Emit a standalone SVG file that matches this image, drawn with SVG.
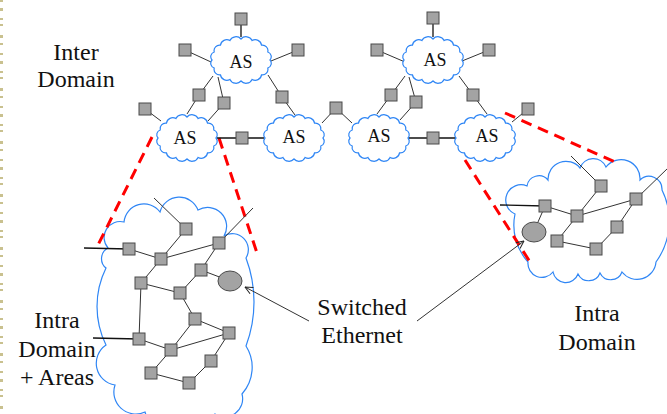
<svg xmlns="http://www.w3.org/2000/svg" xmlns:xlink="http://www.w3.org/1999/xlink" width="667" height="414" viewBox="0 0 667 414">
  <style>
    .cloud { fill: #ffffff; stroke: #2f86f5; stroke-width: 1.2; }
    .rtr { fill: #a3a3a3; stroke: #4a4a4a; stroke-width: 1; }
    .sw { fill: #a3a3a3; stroke: #4a4a4a; stroke-width: 1; }
    .ln { stroke: #333333; stroke-width: 1; fill: none; }
    .lnk { stroke: #111111; stroke-width: 1.3; fill: none; }
    .zoom { stroke: #ff0000; stroke-width: 3; stroke-dasharray: 11 7; fill: none; }
    .lbl { font-family: "Liberation Serif", "Times New Roman", serif; font-size: 24px; fill: #111111; text-anchor: middle; }
    .as { font-family: "Liberation Serif", "Times New Roman", serif; font-size: 18px; fill: #111111; text-anchor: middle; }
    .edge { stroke: #c9c18f; stroke-width: 3; stroke-dasharray: 2 6 3 7 2 4 2 9 3 5 2 8; }
  </style>
  <defs>
    <!-- small scalloped cloud used for every AS -->
    <path id="ascloud" d="M29,0 A5 5 0 0 1 26.79,8.04 A5.6 5.6 0 0 1 20.51,14.85 A6.3 6.3 0 0 1 11.10,19.40 A6.7 6.7 0 0 1 0,21 A6.7 6.7 0 0 1 -11.10,19.40 A6.3 6.3 0 0 1 -20.51,14.85 A5.6 5.6 0 0 1 -26.79,8.04 A5 5 0 0 1 -29,0 A5 5 0 0 1 -26.79,-8.04 A5.6 5.6 0 0 1 -20.51,-14.85 A6.3 6.3 0 0 1 -11.10,-19.40 A6.7 6.7 0 0 1 0,-21 A6.7 6.7 0 0 1 11.10,-19.40 A6.3 6.3 0 0 1 20.51,-14.85 A5.6 5.6 0 0 1 26.79,-8.04 A5 5 0 0 1 29,0 Z"/>
    <rect id="router" x="-6" y="-6" width="12" height="12"/>
    <marker id="open" viewBox="0 0 10 10" refX="9.5" refY="5" markerWidth="9" markerHeight="9" markerUnits="userSpaceOnUse" orient="auto">
      <path d="M1,1 L9.5,5 L1,9" fill="none" stroke="#222" stroke-width="1.1"/>
    </marker>
  </defs>

  <rect width="667" height="414" fill="#ffffff"/>
  <line class="edge" x1="1.5" y1="0" x2="1.5" y2="414"/>

  <!-- intra-domain clouds -->
  <g id="intra-left-cloud">
    <path class="cloud" d="M108,248 A16 16 0 0 1 124,222 A20 20 0 0 1 160,212 A20 20 0 0 1 198,210 A19 19 0 0 1 224,236 A16 16 0 0 1 246,258 A125 125 0 0 1 246,346 A40 40 0 0 1 242,394 A18 18 0 0 1 215,414 A19 19 0 0 1 180,416 A19 19 0 0 1 145,412 A22 22 0 0 1 115,385 A22 22 0 0 1 106,345 A87 87 0 0 1 106,268 A12 12 0 0 1 108,248 Z"/>
  </g>
  <g id="intra-right-cloud">
    <path class="cloud" d="M515,214 A15 15 0 0 1 527,186 A12 12 0 0 1 548,180 A18 18 0 0 1 580,168 A14 14 0 0 1 606,167 A19 19 0 0 1 640,180 A13 13 0 0 1 662,190 A70 70 0 0 1 656,262 A19 19 0 0 1 622,272 A12 12 0 0 1 600,273 A12 12 0 0 1 578,274 A13 13 0 0 1 553,272 A14 14 0 0 1 528,262 A55 55 0 0 1 515,214 Z"/>
  </g>

  <!-- zoom-in guides -->
  <g id="zoom-lines">
    <line class="zoom" x1="152" y1="137" x2="97" y2="247"/>
    <line class="zoom" x1="219" y1="138" x2="257" y2="253"/>
    <line class="zoom" x1="505" y1="113" x2="615" y2="162"/>
    <line class="zoom" x1="465" y1="160" x2="530" y2="262"/>
  </g>

  <g id="connectors">
    <!-- top-left AS -->
    <line class="lnk" x1="241" y1="19" x2="241" y2="37"/>
    <line class="ln" x1="185" y1="50" x2="211" y2="62"/>
    <line class="ln" x1="298" y1="50" x2="271" y2="61"/>
    <line class="ln" x1="213" y1="76" x2="199" y2="95"/>
    <line class="ln" x1="199" y1="95" x2="187" y2="114"/>
    <line class="ln" x1="218" y1="77" x2="224" y2="103"/>
    <line class="ln" x1="224" y1="103" x2="208" y2="121"/>
    <line class="ln" x1="268" y1="75" x2="282" y2="97"/>
    <line class="ln" x1="282" y1="97" x2="295" y2="115"/>
    <!-- top-right AS -->
    <line class="lnk" x1="433" y1="18" x2="433" y2="37"/>
    <line class="ln" x1="377" y1="50" x2="405" y2="62"/>
    <line class="ln" x1="489" y1="50" x2="462" y2="61"/>
    <line class="ln" x1="405" y1="76" x2="391" y2="95"/>
    <line class="ln" x1="391" y1="95" x2="377" y2="114"/>
    <line class="ln" x1="409" y1="77" x2="416" y2="102"/>
    <line class="ln" x1="416" y1="102" x2="400" y2="120"/>
    <line class="ln" x1="459" y1="76" x2="473" y2="95"/>
    <line class="ln" x1="473" y1="95" x2="487" y2="114"/>
    <!-- bottom AS row -->
    <line class="ln" x1="145" y1="109" x2="161" y2="121"/>
    <line class="lnk" x1="217" y1="138" x2="264" y2="138"/>
    <line class="ln" x1="322" y1="123" x2="336" y2="108"/>
    <line class="ln" x1="336" y1="108" x2="352" y2="123"/>
    <line class="lnk" x1="408" y1="138" x2="456" y2="138"/>
    <line class="ln" x1="528" y1="109" x2="512" y2="122"/>

    <!-- left intra-domain graph -->
    <line class="ln" x1="154" y1="198" x2="186" y2="229"/>
    <line class="lnk" x1="84" y1="248" x2="129" y2="249"/>
    <line class="ln" x1="219" y1="243" x2="253" y2="208"/>
    <line class="lnk" x1="93" y1="338" x2="139" y2="339"/>
    <line class="ln" x1="186" y1="229" x2="161" y2="259"/>
    <line class="ln" x1="129" y1="249" x2="161" y2="259"/>
    <line class="ln" x1="161" y1="259" x2="219" y2="243"/>
    <line class="ln" x1="161" y1="259" x2="141" y2="283"/>
    <line class="ln" x1="219" y1="243" x2="201" y2="270"/>
    <line class="ln" x1="201" y1="270" x2="230" y2="281"/>
    <line class="ln" x1="141" y1="283" x2="180" y2="293"/>
    <line class="ln" x1="201" y1="270" x2="180" y2="293"/>
    <line class="ln" x1="141" y1="283" x2="139" y2="339"/>
    <line class="ln" x1="180" y1="293" x2="195" y2="319"/>
    <line class="ln" x1="195" y1="319" x2="229" y2="333"/>
    <line class="ln" x1="195" y1="319" x2="171" y2="350"/>
    <line class="ln" x1="139" y1="339" x2="171" y2="350"/>
    <line class="ln" x1="171" y1="350" x2="229" y2="333"/>
    <line class="ln" x1="229" y1="333" x2="211" y2="361"/>
    <line class="ln" x1="171" y1="350" x2="151" y2="373"/>
    <line class="ln" x1="151" y1="373" x2="189" y2="383"/>
    <line class="ln" x1="189" y1="383" x2="211" y2="361"/>

    <!-- right intra-domain graph -->
    <line class="ln" x1="571" y1="156" x2="601" y2="186"/>
    <line class="lnk" x1="500" y1="205" x2="545" y2="206"/>
    <line class="ln" x1="636" y1="199" x2="668" y2="168"/>
    <line class="ln" x1="601" y1="186" x2="577" y2="216"/>
    <line class="ln" x1="545" y1="206" x2="577" y2="216"/>
    <line class="ln" x1="545" y1="206" x2="538" y2="222"/>
    <line class="ln" x1="577" y1="216" x2="636" y2="199"/>
    <line class="ln" x1="577" y1="216" x2="557" y2="241"/>
    <line class="ln" x1="636" y1="199" x2="617" y2="227"/>
    <line class="ln" x1="617" y1="227" x2="596" y2="249"/>
    <line class="ln" x1="557" y1="241" x2="596" y2="249"/>

    <!-- switched ethernet callouts -->
    <line class="ln" x1="309" y1="321" x2="245" y2="287" marker-end="url(#open)"/>
    <line class="ln" x1="417" y1="321" x2="524" y2="241" marker-end="url(#open)"/>
  </g>

  <!-- autonomous systems -->
  <g id="as-top-left"><use xlink:href="#ascloud" class="cloud" x="241" y="60"/><text class="as" x="241" y="68">AS</text></g>
  <g id="as-top-right"><use xlink:href="#ascloud" class="cloud" x="433" y="60"/><text class="as" x="435" y="66">AS</text></g>
  <g id="as-a"><use xlink:href="#ascloud" class="cloud" x="187" y="138"/><text class="as" x="185" y="144">AS</text></g>
  <g id="as-b"><use xlink:href="#ascloud" class="cloud" x="294" y="138"/><text class="as" x="294" y="143">AS</text></g>
  <g id="as-c"><use xlink:href="#ascloud" class="cloud" x="379" y="138"/><text class="as" x="379" y="142">AS</text></g>
  <g id="as-d"><use xlink:href="#ascloud" class="cloud" x="485" y="138"/><text class="as" x="487" y="142">AS</text></g>

  <!-- inter-domain routers -->
  <g id="r-tl-top"><use xlink:href="#router" class="rtr" x="241" y="19"/></g>
  <g id="r-tl-left"><use xlink:href="#router" class="rtr" x="185" y="50"/></g>
  <g id="r-tl-right"><use xlink:href="#router" class="rtr" x="298" y="50"/></g>
  <g id="r-tl-low1"><use xlink:href="#router" class="rtr" x="199" y="95"/></g>
  <g id="r-tl-low2"><use xlink:href="#router" class="rtr" x="224" y="103"/></g>
  <g id="r-tl-low3"><use xlink:href="#router" class="rtr" x="282" y="97"/></g>
  <g id="r-tr-top"><use xlink:href="#router" class="rtr" x="433" y="18"/></g>
  <g id="r-tr-left"><use xlink:href="#router" class="rtr" x="377" y="50"/></g>
  <g id="r-tr-right"><use xlink:href="#router" class="rtr" x="489" y="50"/></g>
  <g id="r-tr-low1"><use xlink:href="#router" class="rtr" x="391" y="95"/></g>
  <g id="r-tr-low2"><use xlink:href="#router" class="rtr" x="416" y="102"/></g>
  <g id="r-tr-low3"><use xlink:href="#router" class="rtr" x="473" y="95"/></g>
  <g id="r-a-left"><use xlink:href="#router" class="rtr" x="145" y="109"/></g>
  <g id="r-ab"><use xlink:href="#router" class="rtr" x="242" y="138"/></g>
  <g id="r-bc"><use xlink:href="#router" class="rtr" x="336" y="108"/></g>
  <g id="r-cd"><use xlink:href="#router" class="rtr" x="433" y="138"/></g>
  <g id="r-d-right"><use xlink:href="#router" class="rtr" x="528" y="109"/></g>

  <!-- left intra-domain routers -->
  <g id="l1"><use xlink:href="#router" class="rtr" x="186" y="229"/></g>
  <g id="l2"><use xlink:href="#router" class="rtr" x="129" y="249"/></g>
  <g id="l3"><use xlink:href="#router" class="rtr" x="161" y="259"/></g>
  <g id="l4"><use xlink:href="#router" class="rtr" x="219" y="243"/></g>
  <g id="l5"><use xlink:href="#router" class="rtr" x="141" y="283"/></g>
  <g id="l6"><use xlink:href="#router" class="rtr" x="201" y="270"/></g>
  <g id="l7"><use xlink:href="#router" class="rtr" x="180" y="293"/></g>
  <g id="l8"><use xlink:href="#router" class="rtr" x="195" y="319"/></g>
  <g id="l9"><use xlink:href="#router" class="rtr" x="229" y="333"/></g>
  <g id="l10"><use xlink:href="#router" class="rtr" x="139" y="339"/></g>
  <g id="l11"><use xlink:href="#router" class="rtr" x="171" y="350"/></g>
  <g id="l12"><use xlink:href="#router" class="rtr" x="211" y="361"/></g>
  <g id="l13"><use xlink:href="#router" class="rtr" x="151" y="373"/></g>
  <g id="l14"><use xlink:href="#router" class="rtr" x="189" y="383"/></g>
  <g id="l-switch"><ellipse class="sw" cx="230" cy="281" rx="12" ry="10"/></g>

  <!-- right intra-domain routers -->
  <g id="r1"><use xlink:href="#router" class="rtr" x="601" y="186"/></g>
  <g id="r2"><use xlink:href="#router" class="rtr" x="545" y="206"/></g>
  <g id="r3"><use xlink:href="#router" class="rtr" x="577" y="216"/></g>
  <g id="r4"><use xlink:href="#router" class="rtr" x="636" y="199"/></g>
  <g id="r5"><use xlink:href="#router" class="rtr" x="557" y="241"/></g>
  <g id="r6"><use xlink:href="#router" class="rtr" x="617" y="227"/></g>
  <g id="r7"><use xlink:href="#router" class="rtr" x="596" y="249"/></g>
  <g id="r-switch"><ellipse class="sw" cx="534" cy="232" rx="12" ry="10"/></g>

  <!-- labels -->
  <g id="label-inter"><text class="lbl" x="76" y="60">Inter</text><text class="lbl" x="76" y="87">Domain</text></g>
  <g id="label-intra-left"><text class="lbl" x="57" y="328">Intra</text><text class="lbl" x="57" y="357">Domain</text><text class="lbl" x="57" y="385">+ Areas</text></g>
  <g id="label-switched"><text class="lbl" x="362" y="315">Switched</text><text class="lbl" x="362" y="343">Ethernet</text></g>
  <g id="label-intra-right"><text class="lbl" x="597" y="321">Intra</text><text class="lbl" x="597" y="350">Domain</text></g>
</svg>
